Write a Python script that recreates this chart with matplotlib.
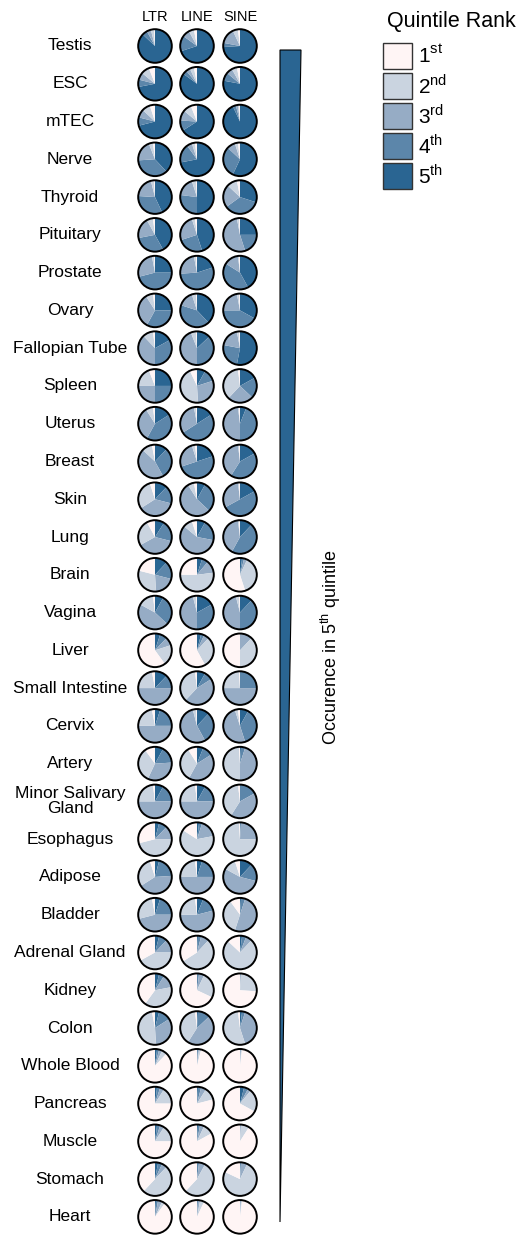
import numpy as np
import matplotlib
matplotlib.use("Agg")
import matplotlib.pyplot as plt
from matplotlib.patches import Circle, Rectangle

plt.rcParams['font.family'] = ['Liberation Sans', 'DejaVu Sans']
plt.rcParams['mathtext.fontset'] = 'custom'
plt.rcParams['mathtext.rm'] = 'Liberation Sans'

# tissues ordered by occurrence in the 5th quintile
tissues = ["Testis", "ESC", "mTEC", "Nerve", "Thyroid", "Pituitary", "Prostate",
           "Ovary", "Fallopian Tube", "Spleen", "Uterus", "Breast", "Skin", "Lung",
           "Brain", "Vagina", "Liver", "Small Intestine", "Cervix", "Artery",
           "Minor Salivary\nGland", "Esophagus", "Adipose", "Bladder",
           "Adrenal Gland", "Kidney", "Colon", "Whole Blood", "Pancreas",
           "Muscle", "Stomach", "Heart"]
families = ["LTR", "LINE", "SINE"]
quintiles = ["1$^{\\mathrm{st}}$", "2$^{\\mathrm{nd}}$", "3$^{\\mathrm{rd}}$",
             "4$^{\\mathrm{th}}$", "5$^{\\mathrm{th}}$"]
colors = ["#fff5f5", "#cad4e0", "#96acc5", "#5c86aa", "#2a6592"]

# fraction of elements per quintile, listed 5th, 4th, 3rd, 2nd, 1st
ltr = [
    [.87, .05, .04, .03, .01], [.72, .07, .07, .08, .06], [.71, .08, .08, .08, .05],
    [.38, .36, .20, .04, .02], [.43, .33, .20, .03, .01], [.42, .30, .20, .06, .02],
    [.25, .46, .26, .02, .01], [.25, .33, .33, .07, .02], [.17, .33, .38, .10, .02],
    [.25, .25, .25, .19, .06], [.16, .42, .33, .07, .02], [.12, .30, .45, .10, .03],
    [.12, .17, .37, .29, .05], [.09, .20, .38, .25, .08], [.12, .17, .20, .30, .21],
    [.08, .29, .46, .15, .02], [.05, .07, .08, .20, .60], [.12, .13, .50, .22, .03],
    [.05, .20, .50, .22, .03], [.08, .16, .33, .33, .10], [.08, .17, .50, .23, .02],
    [.04, .08, .13, .46, .29], [.04, .20, .42, .29, .05], [.05, .20, .46, .26, .03],
    [.04, .08, .13, .42, .33], [.04, .05, .13, .38, .40], [.04, .12, .33, .48, .03],
    [.02, .02, .03, .05, .88], [.02, .03, .04, .16, .75], [.02, .03, .04, .16, .75],
    [.03, .04, .05, .50, .38], [.01, .02, .04, .03, .90],
]
line = [
    [.70, .15, .07, .05, .03], [.85, .04, .04, .04, .03], [.66, .10, .10, .08, .06],
    [.72, .18, .05, .03, .02], [.50, .27, .18, .04, .01], [.45, .25, .25, .03, .02],
    [.20, .54, .23, .02, .01], [.38, .42, .15, .04, .01], [.13, .37, .44, .05, .01],
    [.08, .12, .29, .44, .07], [.16, .50, .31, .02, .01], [.20, .50, .25, .03, .02],
    [.08, .29, .54, .06, .03], [.08, .20, .58, .09, .05], [.05, .06, .12, .52, .25],
    [.17, .33, .46, .03, .01], [.04, .03, .05, .30, .58], [.08, .08, .46, .36, .02],
    [.12, .30, .54, .03, .01], [.06, .10, .42, .33, .09], [.08, .17, .50, .23, .02],
    [.02, .03, .17, .62, .16], [.05, .20, .50, .23, .02], [.06, .15, .54, .23, .02],
    [.01, .03, .08, .54, .34], [.00, .02, .05, .25, .68], [.01, .12, .46, .39, .02],
    [.00, .01, .01, .02, .96], [.01, .03, .05, .12, .79], [.01, .02, .04, .10, .83],
    [.00, .02, .06, .54, .38], [.00, .01, .02, .04, .93],
]
sine = [
    [.74, .04, .15, .05, .02], [.78, .08, .06, .05, .03], [.93, .03, .02, .01, .01],
    [.57, .30, .08, .03, .02], [.30, .35, .22, .10, .03], [.25, .20, .52, .02, .01],
    [.42, .42, .14, .01, .01], [.33, .42, .22, .02, .01], [.53, .25, .19, .02, .01],
    [.17, .20, .25, .36, .02], [.06, .44, .48, .01, .01], [.17, .42, .39, .01, .01],
    [.17, .50, .31, .01, .01], [.12, .46, .40, .01, .01], [.02, .02, .03, .38, .55],
    [.12, .38, .46, .03, .01], [.00, .00, .12, .38, .50], [.00, .25, .50, .24, .01],
    [.08, .37, .50, .03, .02], [.01, .04, .45, .49, .01], [.00, .17, .42, .39, .02],
    [.00, .01, .24, .74, .01], [.12, .17, .54, .12, .05], [.01, .04, .50, .35, .10],
    [.02, .04, .06, .75, .13], [.00, .00, .01, .25, .74], [.02, .03, .40, .53, .02],
    [.00, .00, .01, .01, .98], [.04, .04, .03, .22, .67], [.00, .00, .01, .08, .91],
    [.00, .01, .06, .75, .18], [.00, .00, .01, .01, .98],
]
data = [ltr, line, sine]

W, H = 521, 1236
fig = plt.figure(figsize=(W / 100, H / 100), dpi=100)
ax = fig.add_axes([0, 0, 1, 1])

col_x = [155, 197, 240]
row_y = [H - (46 + i * 37.77) for i in range(len(tissues))]
r = 16.8
slice_colors = colors[::-1]

for j, fam in enumerate(families):
    ax.text(col_x[j], H - 17, fam, ha="center", va="center", fontsize=10.5)
    for i, fr in enumerate(data[j]):
        ax.pie(fr, colors=slice_colors, startangle=90, counterclock=False,
               center=(col_x[j], row_y[i]), radius=r,
               wedgeprops=dict(linewidth=0))
        ax.add_patch(Circle((col_x[j], row_y[i]), r, fill=False,
                            edgecolor="black", linewidth=1.4))

for i, t in enumerate(tissues):
    ax.text(70, row_y[i], t, ha="center", va="center", fontsize=12.5,
            linespacing=1.0)

# wedge showing decreasing occurrence in the top quintile
ax.fill([280, 301, 280], [H - 50, H - 50, H - 1222], facecolor=colors[4],
        edgecolor="black", linewidth=0.8)
ax.text(331, H - 647, "Occurence in 5$^{\\mathrm{th}}$ quintile", rotation=90,
        ha="center", va="center", fontsize=13)

# legend
ax.text(451, H - 22, "Quintile Rank", ha="center", va="center", fontsize=15.5)
for k in range(5):
    top = 43 + k * 30
    ax.add_patch(Rectangle((383, H - top - 26), 29, 26, facecolor=colors[k],
                           edgecolor="#333333", linewidth=1))
    ax.text(418, H - top - 13, quintiles[k], ha="left", va="center", fontsize=15)

ax.set_xlim(0, W)
ax.set_ylim(0, H)
ax.set_aspect("auto")
ax.axis("off")
fig.savefig("out.png", dpi=100)
